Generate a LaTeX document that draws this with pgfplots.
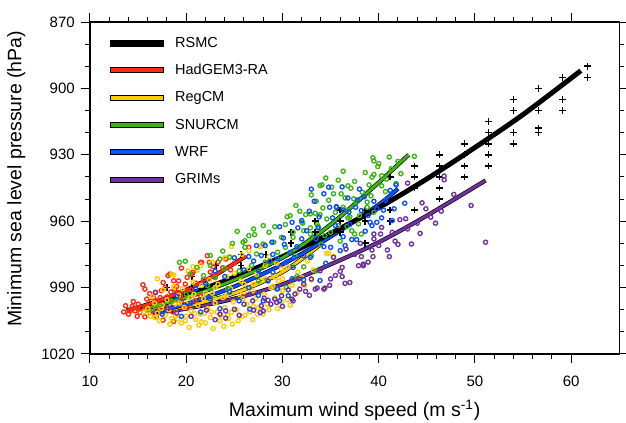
\documentclass[border=0pt]{standalone}
\usepackage{fontspec}
\setmainfont{Liberation Sans}
\usepackage{pgfplots}
\pgfplotsset{compat=1.18}
\definecolor{hgred}{HTML}{FF2A10}
\definecolor{rcyellow}{HTML}{FFCC00}
\definecolor{sngreen}{HTML}{3CB414}
\definecolor{wrfblue}{HTML}{0A50FF}
\definecolor{grpurple}{HTML}{7030A0}
\pgfplotsset{
  pts/.style={only marks, mark=o, mark size=1.25pt, mark options={line width=0.8pt}},
  fitline/.style={smooth, no marks, line width=1.7pt},
  fitedge/.style={smooth, no marks, line width=2.5pt, black},
}
\begin{document}
\begin{tikzpicture}
\useasboundingbox (-54pt,-41.4pt) rectangle (321.6pt,212.4pt);
\begin{axis}[
  scale only axis, width=317.6pt, height=199.2pt,
  xmin=10, xmax=65, ymin=870, ymax=1020, y dir=reverse,
  xtick={10,20,...,60}, ytick={870,900,...,1020},
  minor x tick num=4, minor y tick num=2,
  tick align=outside, major tick length=5.6pt, minor tick length=3pt,
  tick style={black, line width=0.6pt},
  axis line style={line width=0.7pt},
  tick label style={font=\fontsize{9}{10}\selectfont},
  xticklabel style={yshift=-3.8pt},
  /pgf/number format/assume math mode=true,
  /pgf/number format/1000 sep={},
  xlabel={Maximum wind speed (m s\textsuperscript{-1})},
  ylabel={Minimum sea level pressure (hPa)},
  label style={font=\fontsize{11.7}{13}\selectfont},
  xlabel style={at={(axis description cs:0.5,0)}, anchor=base, yshift=-37.8pt},
  ylabel style={at={(axis description cs:-0.139,0.528)}, anchor=center},
  legend style={draw=none, fill=none, at={(0.0378,1)}, anchor=north west,
    yshift=-7.8pt, inner sep=0pt, row sep=7.4pt, column sep=6.7pt,
    font=\fontsize{8.7}{10}\selectfont,
    nodes={inner sep=0pt, text height=7pt, text depth=2pt}},
  legend cell align=left,
]
\addlegendimage{legend image code/.code={\fill[black] (0pt,-1.8pt) rectangle (31.8pt,1.8pt);}}
\addlegendentry{RSMC}
\addlegendimage{legend image code/.code={\filldraw[fill=hgred,draw=black,line width=0.4pt] (0pt,-1.5pt) rectangle (31.8pt,1.5pt);}}
\addlegendentry{HadGEM3-RA}
\addlegendimage{legend image code/.code={\filldraw[fill=rcyellow,draw=black,line width=0.4pt] (0pt,-1.5pt) rectangle (31.8pt,1.5pt);}}
\addlegendentry{RegCM}
\addlegendimage{legend image code/.code={\filldraw[fill=sngreen,draw=black,line width=0.4pt] (0pt,-1.5pt) rectangle (31.8pt,1.5pt);}}
\addlegendentry{SNURCM}
\addlegendimage{legend image code/.code={\filldraw[fill=wrfblue,draw=black,line width=0.4pt] (0pt,-1.5pt) rectangle (31.8pt,1.5pt);}}
\addlegendentry{WRF}
\addlegendimage{legend image code/.code={\filldraw[fill=grpurple,draw=black,line width=0.4pt] (0pt,-1.5pt) rectangle (31.8pt,1.5pt);}}
\addlegendentry{GRIMs}

% RSMC best track
\addplot[only marks, mark=+, mark size=2pt, mark options={line width=1pt}, black, forget plot] coordinates {
(61.7,890)(61.7,895)(59.1,895)(59.1,905)(59.1,910)(56.6,900)(56.6,910)(56.6,918)(56.6,920)
(54.0,905)(54.0,910)(54.0,920)(54.0,925)(51.4,915)(51.4,920)(51.4,925)(51.4,930)(51.4,935)
(48.9,925)(48.9,930)(48.9,935)(48.9,940)(46.3,930)(46.3,935)(46.3,940)(46.3,945)(46.3,950)
(43.7,935)(43.7,940)(43.7,945)(43.7,955)(41.2,940)(41.2,955)(41.2,960)(38.6,955)(38.6,960)
(38.6,970)(36.0,955)(36.0,960)(36.0,965)(33.4,960)(33.4,965)(30.9,965)(30.9,970)(28.3,975)
(25.7,975)(25.7,980)(23.1,980)(20.6,985)(20.6,990)(18.0,990)(15.4,1000)};

% HadGEM3-RA
\addplot[pts, hgred, forget plot] coordinates {
(13.7,998.2)(14.5,996.3)(14.7,1000.5)(14.9,999.3)(15.5,988.7)(15.7,990.7)(15.9,995.2)(16.2,992.7)
(16.6,994.5)(16.8,992.2)(16.9,996.0)(17.3,994.5)(17.4,991.4)(17.6,987.7)(17.8,990.0)(18.0,994.2)
(18.1,984.6)(18.3,983.9)(18.7,986.9)(18.8,990.7)(19.2,992.2)(19.4,993.7)(19.5,981.2)(19.9,988.4)
(20.1,985.4)(20.6,983.9)(20.7,983.1)(21.6,978.6)(22.2,975.6)(22.4,978.6)(24.1,977.1)(14.2,1000.5)
(15.2,1001.3)(15.7,1003.2)(16.6,1001.3)(17.6,1004.7)(18.7,1005.3)(17.3,1000.5)(20.2,999.3)(26.5,971.8)
(21.5,978.6)(14.0,1002)(15.0,997.5)(16.0,998.5)(16.8,1000)(17.5,997.5)(18.5,996.5)(19.0,989.5)
(19.5,996)(20.5,991)(21.0,988)(21.5,994)(22.5,983)(23.0,985)(23.8,981)(25.0,979)(23.3,978.5)
(24.6,982)(13.5,1001)(14.4,998.5)(15.3,999)(15.9,1000)(16.4,996)(16.9,1003)(17.9,999)(18.6,1001)
(19.7,999)(14.9,1003)(20.9,996)(22.8,980.5)(21.8,986.5)(19.2,987)(18.4,992)};
% RegCM
\addplot[pts, rcyellow, forget plot] coordinates {
(17.0,986)(18.5,984)(20.2,982.5)(21.5,980)(22.7,978.5)(24.0,976.5)(24.7,971.4)(25.8,975)(26.5,973.5)
(27.85,971)(28.6,976)(29.4,979)(30.5,980.5)(31.6,983)(32.6,978)(33.2,982)(34.6,974.5)(34.8,974.5)
(35.3,976)(32.0,985.5)(30.0,986)(29.0,989.5)(20.7,980.6)(21.2,982.1)(24.5,976.0)(18.7,984.3)
(27.7,971.5)(29.9,981.6)
(15.6,1001)(16.0,999.5)(16.3,1003)(16.7,997)(17.0,1001.5)(17.2,1005)(17.5,998)(17.8,1002.5)
(18.0,995.5)(18.2,1000)(18.5,1004)(18.8,997.5)(19.0,1001.5)(19.2,993.5)(19.5,1006)(19.8,999)
(20.0,1003)(20.2,996)(20.5,1000.5)(20.8,993)(21.0,1004.5)(21.2,998)(21.5,1002)(21.8,995)
(22.0,1006)(22.2,999.5)(22.5,1003.5)(22.7,992.5)(23.0,997)(23.2,1001)(23.5,1005)(23.8,994.5)
(24.0,999)(24.3,1002.5)(24.6,990.5)(24.9,996.5)(25.2,1000)(25.5,993)(25.8,1003)(26.0,988.5)
(26.3,997.5)(26.6,1001)(26.9,991.5)(27.2,995)(27.5,999)(27.8,986.5)(28.1,993)(28.4,997.5)
(28.8,990)(29.2,994.5)(29.6,987)(30.0,991.5)(30.5,995.5)(31.0,989)(16.5,994)(17.6,991)
(18.7,989.5)(19.6,990.5)(20.7,987.5)(21.6,989)(22.4,986.5)(23.3,988.5)(24.2,985)(25.0,983.5)
(25.7,987)(26.5,981.5)(27.3,984)(28.2,980)(29.0,983.5)(21.3,1007)(18.3,1006.5)(24.8,1006.5)
(26.9,1004.5)(28.0,1002)(29.5,999.5)(30.8,998)(31.5,992.5)(32.3,989)(33.0,986.5)(23.9,1007.5)
(20.3,1008)(22.8,1008.5)(19.1,1004)(21.9,1001.5)(24.4,1004)(25.9,995)(27.0,998.5)(22.9,995)
(16.8,1003.5)(17.4,999.5)(18.9,1002.8)(19.9,1005)(20.9,1001.7)(21.6,1005.5)(22.6,1001)(23.6,1002.5)
(24.7,1001.2)(25.4,1005)(26.1,1002.5)(27.4,1002)(28.6,1000)(29.9,996.5)(19.3,997)(20.4,994.5)
(22.0,992.5)(23.0,990)(24.2,993.5)(26.0,992)(27.0,988.5)(28.2,986)(29.3,985.5)};
% SNURCM
\addplot[pts, sngreen, forget plot] coordinates {
(39.4,931.3)(39.5,932.8)(39.9,935.3)(41.1,931.0)(41.3,936.3)(43.7,930.7)(36.3,937.4)(34.1,943.6)
(33.0,948.1)(35.3,947.6)(36.1,947.6)(37.1,945.1)(38.3,946.9)(39.0,943.6)(39.3,940.1)(39.5,938.9)
(40.7,946.6)(36.5,949.5)(37.4,949.9)(37.7,951.4)(38.8,951.4)(31.4,952.9)(32.4,957.0)(33.4,956.4)
(33.9,957.0)(36.3,953.7)(36.7,955.2)(30.3,961.5)(31.1,965.0)(32.0,960.5)(32.9,963.0)(33.7,962.4)
(35.8,962.0)(37.9,961.2)(38.2,965.8)(37.2,964.3)(29.9,967.3)(31.1,967.3)(32.2,964.3)
(27.0,963.5)(27.1,966.1)(25.9,969.5)(27.3,974.8)(29.1,969.5)(32.1,960.9)(32.9,956.7)(33.6,961.5)
(32.9,965.8)(34.4,966.5)(36.7,962.4)(37.5,965.8)(38.8,953.7)(39.5,956.0)(30.3,971.8)(31.3,975.6)
(32.2,980.6)(33.0,975.6)(30.4,989.9)(29.4,990.7)(28.0,970.3)
(19.3,978.6)(19.9,978.1)(23.5,977.1)(24.5,976.3)(26.1,968.8)(26.1,971.8)(20.4,983.9)(21.1,980.9)
(21.8,984.6)(25.3,964.6)(35.1,944.6)(33.9,943.9)(40.3,944.0)(34.8,950.5)(35.5,956)(34.6,959)
(35.0,965)(36.0,969)(34.0,970.5)(30.8,957.5)(28.6,965)(29.5,974)(28.2,978.5)(26.8,980)
(25.5,982.5)(23.0,985.5)(22.2,989)(24.3,990.5)(20.0,993)(18.5,996)(17.2,998)(16.5,999.5)
(27.5,987)(31.5,985)(33.5,982.5)(36.8,958.5)(38.0,957.5)(40.3,939.5)(41.8,943)(42.3,938.5)
(34.5,940.5)(35.8,941.5)(37.5,942)(38.6,938)(40.0,934)(42.0,933)(36.8,944)(33.5,951)
(31.8,955.5)(30.5,958)(34.2,954)(37.0,958)(39.2,948.5)(40.8,941)(29.2,962.5)(28.0,962)
(26.5,966.5)(24.8,970)(23.8,973.5)(22.5,975.5)(22.5,980)(24.0,981.5)};
% WRF
\addplot[pts, wrfblue, forget plot] coordinates {
(34.8,944.6)(34.3,947.6)(32.8,955.5)(35.6,953.7)(37.8,950.4)(38.2,955.2)(39.8,954.4)(41.2,946.1)
(41.8,943.6)(42.7,951.9)(41.4,959.7)(36.9,955.9)(37.6,953.7)(39.1,960.5)(32.0,959.7)(31.0,960.5)
(30.1,967.6)(32.5,964.3)(34.9,953.7)(35.6,953.4)(36.3,954.9)(33.7,963.0)(32.0,968.0)(30.8,974.1)
(28.9,969.5)(28.2,971.0)(27.3,971.0)(28.7,978.1)(29.5,977)(30.4,978.5)(31.1,980.9)(32.2,975.6)
(32.9,976.3)(34.3,971.5)(35.0,971.8)(36.0,973.3)(36.3,967.0)(36.5,971.0)(37.2,968.3)(37.7,968.3)
(38.9,957.4)(39.8,960.5)(26.6,999.7)(28.0,996.0)(29.7,996)(30.6,993.7)(32.2,986.5)(33.9,986.8)
(40.7,950.6)(38.5,949)(33.3,951)(29.7,962.5)(31.5,971.5)(41.6,954.4)(40.3,958.5)(39.3,962)
(17.5,1002)(18.5,999)(19.5,1003)(20.5,997)(21.5,1001)(22.5,995)(23.5,999.5)(24.5,992)
(25.5,996)(26.5,990)(27.5,993.5)(28.5,987)(29.5,990.5)(22.0,988)(24.0,985)(26.0,982)
(27.0,978)(25.0,976.5)(23.0,982.5)(21.0,990.5)(19.0,994)(27.5,982.5)(29.0,983)(31.0,986)(34.5,979)
(33.0,945.5)(36.2,944.5)(38.0,945.5)(39.5,951)(40.5,955)(35.2,958.5)(33.8,958)(31.6,963)
(30.2,970.5)(29.0,975)(27.8,975.5)(26.5,976)(33.5,968)(35.5,962)(37.0,961.5)(38.6,964.5)
(36.8,949.5)(31.2,976.5)};
% GRIMs
\addplot[pts, grpurple, forget plot] coordinates {
(46.8,939.6)(46.8,941.3)(43.0,942.8)(47.8,947.9)(49.6,952.9)(51.1,969.5)(44.5,951.7)(44.9,954.4)
(45.4,958.2)(45.9,960.9)(44.0,960.9)(42.8,958.9)(42.2,959.3)(43.0,963.5)(43.4,970.3)(40.3,962.8)
(39.5,965.8)(39.5,968)(41.4,965)(38.1,970.0)(39.3,973.0)(40.9,973.0)(41.1,976.0)(39.4,976.0)
(38.2,976.0)(36.6,972.6)(38.4,980.1)(37.9,980.1)(36.0,982.7)(36.2,980.9)(37.0,987.7)(36.5,988.1)
(35.0,986.1)(34.3,990.7)(33.4,990.7)(33.0,986.1)(32.2,988.4)(32.4,991.7)(31.8,990.7)(31.3,992.9)
(31.0,995.2)(29.9,993.7)(29.2,995.2)(29.4,996.7)(28.5,995.7)(27.8,998.2)(28.0,1000.5)(27.0,1000.2)
(31.7,986.1)(31.1,996.0)(28.1,994.8)(26.6,993.0)(27.7,1001.3)(24.1,1000.5)(24.1,1003.8)(22.1,1000.2)
(16.8,992.2)(33.6,990.2)(34.4,990.2)(33.9,982.4)(35.3,976.3)(38.4,979.4)(40.2,965.8)(25.5,1002.5)
(23.0,1004.5)(20.5,1003)(19.0,1001.5)(18.0,999)(26.0,997.5)(30.0,998.5)(35.5,984.5)(37.5,975)(42.0,970.5)
(28.8,997.5)(30.6,991)(32.8,993.5)(34.9,989)(36.2,985)(38.9,978.5)(40.0,971)(41.7,969)
(44.3,965.5)(46.5,955.5)(23.5,1002)(25.0,999.8)(26.9,996)};

% fitted curves
\addplot[fitedge, forget plot] coordinates {(16.5,1001.5)(20,999.5)(25,995)(30,988.5)(35,979.5)(40,969.5)(45,957.5)(51.1,941.6)};
\addplot[fitline, grpurple, forget plot] coordinates {(16.5,1001.5)(20,999.5)(25,995)(30,988.5)(35,979.5)(40,969.5)(45,957.5)(51.1,941.6)};
\addplot[fitedge, forget plot] coordinates {(16,1001.5)(20,998.5)(25,992.5)(30,983)(34.1,970)};
\addplot[fitline, rcyellow, forget plot] coordinates {(16,1001.5)(20,998.5)(25,992.5)(30,983)(34.1,970)};
\addplot[fitedge, forget plot] coordinates {(16.5,1001)(20,997.5)(25,989.5)(30,979.5)(35,967)(40,952.5)(42,945.3)};
\addplot[fitline, wrfblue, forget plot] coordinates {(16.5,1001)(20,997.5)(25,989.5)(30,979.5)(35,967)(40,952.5)(42,945.3)};
\addplot[smooth, no marks, line width=3pt, black, forget plot] coordinates {
(16,999)(20,993.4)(25,985.3)(30,976)(35,965.5)(40,953.9)(45,940.9)(50,926.7)(55,911.8)(61,892)};
\addplot[fitedge, forget plot] coordinates {(15.5,999.5)(20,994.5)(25,986.5)(30,976.5)(35,961.5)(40,942.5)(43.1,930)};
\addplot[fitline, sngreen, forget plot] coordinates {(15.5,999.5)(20,994.5)(25,986.5)(30,976.5)(35,961.5)(40,942.5)(43.1,930)};
\addplot[fitedge, forget plot] coordinates {(13.8,1000.3)(16,997.6)(18,994.6)(20,991)(22,986.8)(24,981.8)(26.2,975.8)};
\addplot[fitline, hgred, forget plot] coordinates {(13.8,1000.3)(16,997.6)(18,994.6)(20,991)(22,986.8)(24,981.8)(26.2,975.8)};
\end{axis}
\end{tikzpicture}
\end{document}
